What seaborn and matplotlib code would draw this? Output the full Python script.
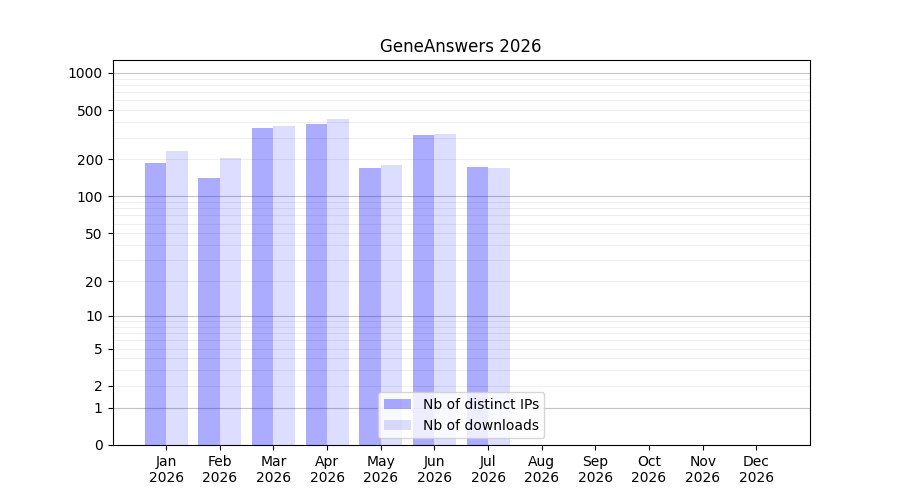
import numpy as np
import pandas as pd
import matplotlib
matplotlib.use('Agg')
import matplotlib.pyplot as plt
import seaborn as sns

months = ['Jan', 'Feb', 'Mar', 'Apr', 'May', 'Jun', 'Jul', 'Aug', 'Sep', 'Oct', 'Nov', 'Dec']
year = '2026'
distinct_ips = [187, 141, 359, 387, 170, 315, 173, 0, 0, 0, 0, 0]
downloads = [234, 205, 373, 425, 180, 321, 172, 0, 0, 0, 0, 0]
series = ['Nb of distinct IPs', 'Nb of downloads']
ytick_vals = [0, 1, 2, 5, 10, 20, 50, 100, 200, 500, 1000]

df = pd.DataFrame({
    'month': months * 2,
    'value': distinct_ips + downloads,
    'series': [series[0]] * 12 + [series[1]] * 12,
})

fig, ax = plt.subplots(figsize=(9, 5), dpi=100)
sns.barplot(data=df, x='month', y='value', hue='series', order=months,
            hue_order=series, errorbar=None, width=0.8, linewidth=0,
            palette=['blue', 'blue'], ax=ax)

# per-series transparency
alphas = [0.33, 0.135]
for cont, a in zip(ax.containers, alphas):
    for p in cont:
        p.set_facecolor((0, 0, 1, a))
        p.set_edgecolor('none')

# log(1+x) scale
def fwd(y):
    return np.log10(1 + np.maximum(y, 0))

def inv(y):
    return 10 ** y - 1

ax.set_yscale('function', functions=(fwd, inv))
ax.set_ylim(0, 1273)
ax.set_xlim(-1, 12)

ax.set_yticks(ytick_vals)
ax.set_yticklabels([str(v) for v in ytick_vals])
minor = [m * d for d in [1, 10, 100] for m in range(2, 10)]
ax.set_yticks(minor, minor=True)
ax.tick_params(axis='y', which='minor', length=0)
ax.grid(False)
for v in minor:
    ax.axhline(v, color='#eeeeee', lw=0.8, zorder=0)
for v in [1, 10, 100, 1000]:
    ax.axhline(v, color='#c4c4c4', lw=0.8, zorder=0)

ax.set_xticks(range(12))
ax.set_xticklabels([m + '\n' + year for m in months])
ax.set_xlabel('')
ax.set_ylabel('')
ax.set_title('GeneAnswers 2026')

ax.legend(ax.containers, series, loc='lower center')

plt.savefig('out.png')
